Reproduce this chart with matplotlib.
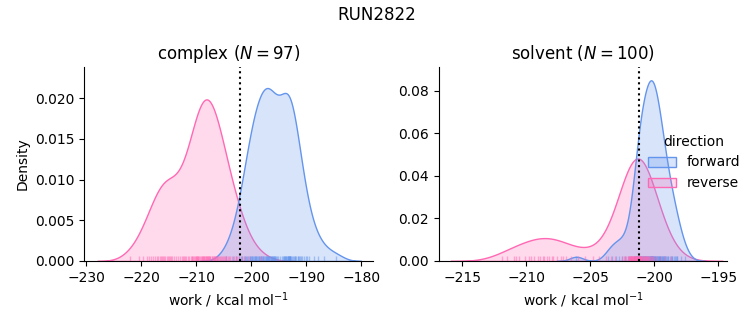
import pandas as pd
import matplotlib.pyplot as plt
import seaborn as sns

complex_forward = [
    -204.6, -203.4,
    -202.7, -202.2, -201.9, -201.6, -201.3, -201.1,
    -200.9, -200.7, -200.5, -200.3, -200.2, -200.0, -199.9, -199.8, -199.6, -199.5, -199.4, -199.3, -199.2, -199.1,
    -199.0,
    -198.7, -198.6, -198.5, -198.4, -198.3, -198.2, -198.1, -197.9, -197.8, -197.7,
    -197.5, -197.4, -197.3, -197.2, -197.1, -197.0,
    -196.9, -196.8, -196.7, -196.6, -196.5, -196.4, -196.3, -196.2, -196.1, -196.0, -195.9, -195.8, -195.7, -195.6,
    -195.5, -195.3, -195.1,
    -194.8, -194.5, -194.3, -194.1, -194.0, -193.9, -193.8, -193.7, -193.6, -193.5, -193.4, -193.3, -193.25, -193.2,
    -193.15, -193.1, -193.05, -193.0, -192.95,
    -192.9, -192.8, -192.6, -192.5, -192.3, -192.1, -192.0, -191.8, -191.6, -191.5, -191.3, -191.2, -191.0,
    -190.7, -190.4, -190.1, -189.8, -189.5,
    -188.6, -187.9, -186.8,
    -184.7,
]
complex_reverse = [
    -222.0, -220.3,
    -219.6, -219.0, -218.6, -218.2,
    -217.8, -217.5, -217.1, -216.9, -216.6, -216.4, -216.2, -216.0,
    -215.8, -215.6, -215.3, -215.1, -214.9, -214.7, -214.5, -214.3, -214.1,
    -213.7, -213.3, -212.9, -212.6, -212.4, -212.2, -212.0,
    -211.8, -211.5, -211.3, -211.0, -210.8, -210.7, -210.5, -210.4, -210.2, -210.1, -210.0,
    -209.9, -209.8, -209.7, -209.6, -209.4, -209.3, -209.1, -209.0, -208.9, -208.8, -208.7, -208.6, -208.5, -208.4,
    -208.3, -208.2, -208.1, -208.0,
    -207.9, -207.8, -207.7, -207.6, -207.5, -207.4, -207.2, -207.1, -206.9, -206.8, -206.7, -206.6, -206.5, -206.4,
    -206.3, -206.2, -206.1,
    -205.9, -205.7, -205.5, -205.3, -205.1, -204.9, -204.8, -204.6, -204.5, -204.3, -204.1,
    -203.8, -203.5, -203.1, -202.8, -202.5, -202.2,
    -201.7, -201.1, -200.4,
    -198.3,
]
solvent_forward = [
    -206.1,
    -203.6, -203.3, -203.0,
    -202.8, -202.5, -202.3, -202.1,
    -201.8, -201.6, -201.5, -201.4, -201.3, -201.2,
    -201.4, -201.36, -201.33, -201.29, -201.26, -201.22, -201.19, -201.15, -201.12, -201.08, -201.05, -201.01,
    -200.98, -200.94, -200.91, -200.87, -200.84, -200.8, -200.77, -200.73, -200.7, -200.66, -200.63, -200.59,
    -200.56, -200.52, -200.49, -200.45, -200.42, -200.38, -200.35, -200.31, -200.28, -200.25,
    -200.3, -200.3, -200.25, -200.2, -200.2, -200.1, -200.0, -199.95, -199.85, -199.65, -199.55,
    -200.22, -200.18, -200.14, -200.09, -200.05, -200.01, -199.96, -199.92, -199.88, -199.83, -199.79, -199.75,
    -199.7, -199.66, -199.62, -199.57, -199.53, -199.49, -199.44, -199.4, -199.36, -199.31, -199.27, -199.23,
    -199.18, -199.14, -199.1,
    -199.0, -198.95, -198.9, -198.8, -198.7, -198.65, -198.6, -198.5, -198.4, -198.35, -198.25, -198.2,
    -197.9, -197.6,
]
solvent_reverse = [
    -211.9, -211.5, -211.0, -210.8, -210.6, -210.1, -209.8, -209.6, -209.4, -209.1, -208.9, -208.7, -208.6, -208.4,
    -208.2, -208.0, -207.9, -207.6, -207.3, -207.1, -206.9, -206.5, -206.0, -205.4, -204.8,
    -204.3, -203.8, -203.4, -203.1,
    -202.5, -202.4, -202.3, -202.2, -202.1, -202.0,
    -201.98, -201.95, -201.93, -201.9, -201.88, -201.85, -201.83, -201.8, -201.78, -201.75, -201.73, -201.7, -201.68,
    -201.65, -201.63, -201.6, -201.58, -201.55, -201.53, -201.51,
    -201.49, -201.47, -201.45, -201.42, -201.4, -201.38, -201.35, -201.33, -201.31, -201.28, -201.26, -201.24,
    -201.21, -201.19, -201.17, -201.14, -201.12, -201.1, -201.07, -201.05, -201.03, -201.01,
    -200.97, -200.93, -200.89, -200.85, -200.81, -200.77, -200.73, -200.69, -200.65, -200.61, -200.57, -200.53,
    -200.5,
    -200.45, -200.37, -200.29, -200.21, -200.13, -200.05,
    -199.8, -199.5, -199.2,
    -198.7,
]

# free energy estimates (dotted lines)
dg_complex = -202.0
dg_solvent = -201.2

rows = []
for phase, fwd, rev in [("complex", complex_forward, complex_reverse),
                        ("solvent", solvent_forward, solvent_reverse)]:
    rows += [(phase, "forward", w) for w in fwd]
    rows += [(phase, "reverse", w) for w in rev]
df = pd.DataFrame(rows, columns=["phase", "direction", "work"])

g = sns.displot(df, x="work", hue="direction", col="phase", kind="kde", fill=True, rug=True,
                palette={"forward": "cornflowerblue", "reverse": "hotpink"},
                facet_kws=dict(sharex=False, sharey=False), rug_kws=dict(alpha=0.5))

fig = g.figure
fig.set_size_inches(7.53, 3.25)
fig.subplots_adjust(left=0.112, right=0.966, bottom=0.197, top=0.793, wspace=0.228)
fig.suptitle("RUN2822")

ax1, ax2 = g.axes[0]
ax1.set_title(f"complex ($N={len(complex_forward)}$)")
ax2.set_title(f"solvent ($N={len(solvent_forward)}$)")
ax1.axvline(dg_complex, color="k", ls=":")
ax2.axvline(dg_solvent, color="k", ls=":")
ax1.set_xlim(-230.3, -177.9)
ax2.set_xlim(-216.84, -194.3)
ax1.set_ylim(0, 0.0238)
ax2.set_ylim(0, 0.091)
for ax in (ax1, ax2):
    ax.set_xlabel("work / kcal mol$^{-1}$")
ax1.set_ylabel("Density")
ax2.set_ylabel("")

fig.savefig("out.png", dpi=100)
